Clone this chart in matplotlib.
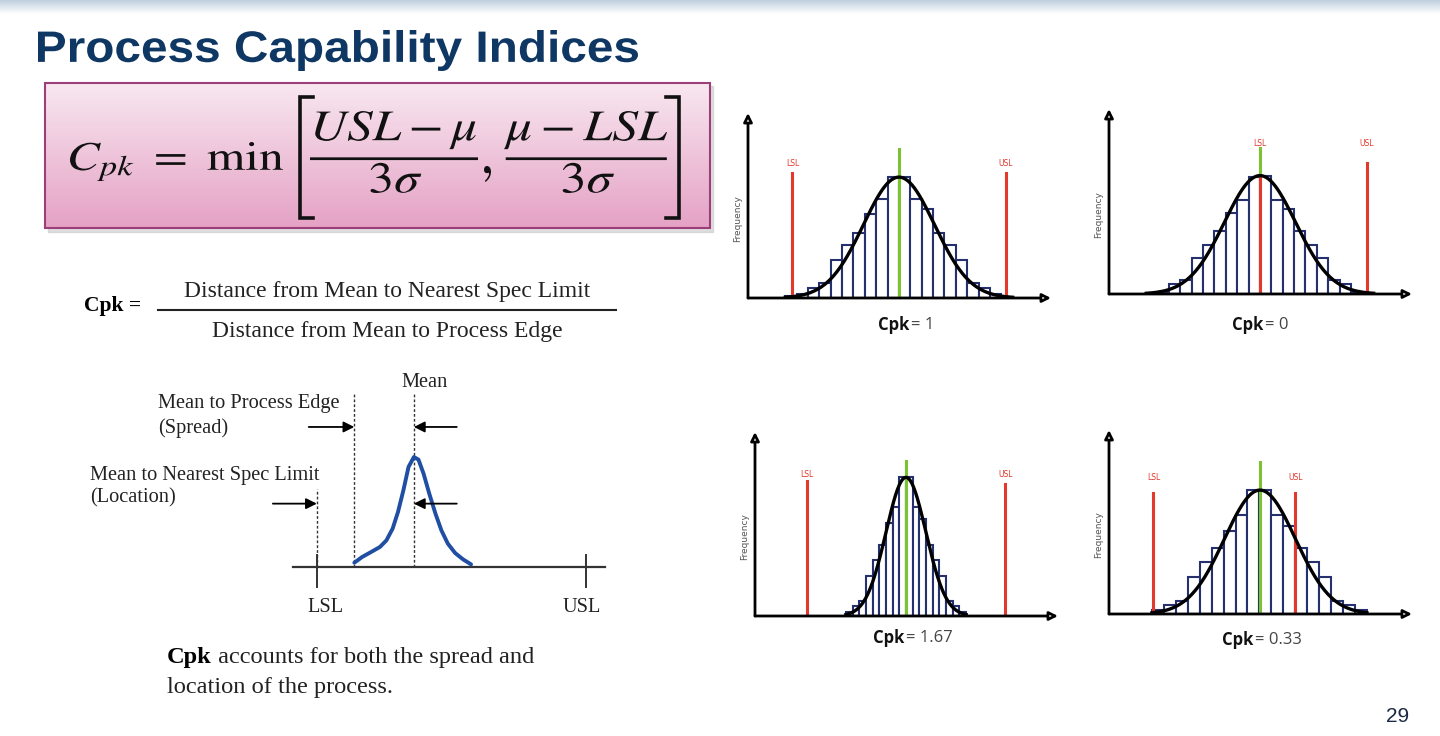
import numpy as np
import matplotlib.pyplot as plt
from matplotlib.patches import Rectangle, PathPatch
from matplotlib.colors import LinearSegmentedColormap
from matplotlib.textpath import TextPath
from matplotlib.font_manager import FontProperties
from matplotlib.transforms import Affine2D

W, H = 1440, 736

# ---- data ----
cpk_labels = ["1", "0", "1.67", "0.33"]
proc_mean = [0.0, 0.0, 0.0, 0.0]
proc_sigma = [1.0, 1.0, 0.56, 1.0]
lsl_vals = [-3.0, 0.0, -2.8, -3.0]
usl_vals = [3.0, 3.0, 2.8, 1.0]
bin_start = [-3.2, -3.2, -1.69, -3.04]
bin_width = [0.32, 0.32, 0.188, 0.336]
counts_1 = [2, 3, 8, 12, 31, 43, 53, 68, 80, 98, 98, 80, 72, 53, 43, 31, 12, 8, 3, 1]
counts_2 = [1, 2, 8, 11, 29, 40, 51, 66, 76, 95, 96, 76, 69, 51, 40, 29, 11, 8, 2, 1]
counts_3 = [3, 8, 12, 33, 46, 58, 76, 89, 113, 113, 89, 79, 58, 46, 33, 12, 8, 3]
counts_4 = [3, 7, 11, 30, 42, 54, 68, 81, 101, 101, 81, 72, 54, 42, 30, 11, 7, 3]
all_counts = [counts_1, counts_2, counts_3, counts_4]

# schematic curve (Mean / LSL / USL diagram), LSL = 0, USL = 10
diag_x = [1.39, 1.68, 2.01, 2.34, 2.58, 2.81, 3.01, 3.21, 3.40, 3.60,
          3.77, 3.96, 4.17, 4.40, 4.62, 4.86, 5.13, 5.42, 5.72]
diag_y = [0.039, 0.091, 0.136, 0.182, 0.242, 0.348, 0.50, 0.697, 0.909, 1.0,
          0.976, 0.848, 0.667, 0.485, 0.333, 0.212, 0.127, 0.070, 0.024]
diag_lsl, diag_usl, diag_edge, diag_mean = 0.0, 10.0, 1.39, 3.60

# ---- panel layout (pixels) and line heights (count units) ----
panel_left = [748, 1109, 755, 1109]
panel_top = [113, 109, 432, 430]
panel_bottom = [298, 294, 616, 614]
panel_w = 303
lsl_top = [101, 95, 110, 99]
usl_top = [101, 106, 108, 99]
mean_top = [121, 118, 126, 124]
label_y = [109, 122, 115, 111]
caption_pos = [(909, 325), (1263, 325), (904, 638), (1253, 640)]

navy = '#27306f'
red = '#e2392c'
green = '#7cc334'
ink = '#111111'
serif = 'Liberation Serif'
mathprop = FontProperties(math_fontfamily='stix')


def fit_path(ax, s, prop, x0, x1, y_top, y_bot, color, zorder=5):
    # draw text as a path stretched into a pixel box (y axis points down)
    tp = TextPath((0, 0), s, size=40, prop=prop)
    ext = tp.get_extents()
    sx = (x1 - x0) / ext.width
    sy = (y_bot - y_top) / ext.height
    tr = Affine2D().translate(-ext.x0, -ext.y0).scale(sx, -sy).translate(x0, y_bot)
    ax.add_patch(PathPatch(tr.transform_path(tp), fc=color, ec='none', zorder=zorder))


fig = plt.figure(figsize=(14.4, 7.36), dpi=100)
fig.patch.set_facecolor('white')
bg = fig.add_axes([0, 0, 1, 1])
bg.axis('off')

# top band
band_cmap = LinearSegmentedColormap.from_list('band', ['#bfcfde', '#ffffff'])
bg.imshow(np.linspace(0, 1, 50)[:, None], extent=[0, W, 14, 0], cmap=band_cmap,
          aspect='auto', origin='upper')

fit_path(bg, 'Process Capability Indices',
         FontProperties(family='Liberation Sans', weight='bold'),
         38, 638, 30, 71, '#0f3763')

# formula box
bg.add_patch(Rectangle((48, 86), 665, 146, color='#c8c8c8', alpha=0.6, zorder=1))
box_cmap = LinearSegmentedColormap.from_list('box', ['#f8e7f0', '#e5a2c5'])
bg.imshow(np.linspace(0, 1, 80)[:, None], extent=[45, 710, 228, 83], cmap=box_cmap,
          aspect='auto', origin='upper', zorder=2)
bg.add_patch(Rectangle((45, 83), 665, 145, fill=False, ec='#9c3f78', lw=1.5, zorder=3))
fit_path(bg, r'$C_{pk}\ =\ \mathrm{min}$', mathprop, 70, 283, 142, 181, ink)
fit_path(bg, r'$\dfrac{USL-\mu}{3\sigma}$', mathprop, 310, 478, 111, 193, ink)
fit_path(bg, r'$\dfrac{\mu-LSL}{3\sigma}$', mathprop, 504, 667, 111, 193, ink)
fit_path(bg, r'$,$', mathprop, 484, 491, 166, 182, ink)
bg.plot([313, 300, 300, 313], [97, 97, 218, 218], color=ink, lw=2.6, zorder=5,
        solid_joinstyle='miter')
bg.plot([666, 679, 679, 666], [97, 97, 218, 218], color=ink, lw=2.6, zorder=5,
        solid_joinstyle='miter')

# Cpk word formula
bg.text(84, 306, 'Cpk =', fontsize=15.5, fontweight='bold', family=serif, va='center')
bg.text(387, 292, 'Distance from Mean to Nearest Spec Limit', ha='center', va='center',
        fontsize=17, family=serif, color='#222222')
bg.plot([158, 616], [310, 310], color='#222222', lw=1.5)
bg.text(387, 331, 'Distance from Mean to Process Edge', ha='center', va='center',
        fontsize=17, family=serif, color='#222222')

# bottom note
t1 = bg.text(167, 657, 'Cpk', fontsize=17.6, fontweight='bold', family=serif, va='center')
bg.annotate(' accounts for both the spread and', xy=(1, 0.5), xycoords=t1, va='center',
            fontsize=17.6, family=serif, color='#222222')
bg.text(167, 687, 'location of the process.', fontsize=17.6, family=serif, va='center',
        color='#222222')

bg.text(1398, 717, '29', fontsize=15, color='#1b2a44', ha='center', va='center',
        family='Liberation Sans')

# Cpk captions
for (sx, sy), lab in zip(caption_pos, cpk_labels):
    bg.text(sx, sy, 'Cpk', ha='right', va='center', fontsize=12, fontweight='bold',
            family='Open Sans', color='#111111')
    bg.text(sx + 2, sy, '= ' + lab, ha='left', va='center', fontsize=12,
            family='Open Sans', color='#444444')

bg.set_xlim(0, W)
bg.set_ylim(H, 0)

# ---- diagram ----
dg = fig.add_axes([276.4 / W, 1 - 655 / H, 337 / W, 286 / H])
dg.set_xlim(-1.5, 11)
dg.set_ylim(-0.8, 1.8)
dg.axis('off')
dg.plot([-0.9, 10.69], [0, 0], color='#333333', lw=1.6)
for x in [diag_lsl, diag_usl]:
    dg.plot([x, x], [0.106, -0.18], color='#333333', lw=1.4)
dot = dict(color='#333333', lw=1, linestyle=(0, (2, 1.5)))
dg.plot([diag_lsl, diag_lsl], [0, 0.712], **dot)
dg.plot([diag_edge, diag_edge], [0, 1.576], **dot)
dg.plot([diag_mean, diag_mean], [0, 1.576], **dot)
dg.plot(diag_x, diag_y, color='#1f4ea3', lw=2.8, solid_capstyle='round')
arw = dict(arrowstyle='-|>', color='black', lw=1.3, shrinkA=0, shrinkB=0, mutation_scale=16)
dg.annotate('', xy=(diag_edge, 1.273), xytext=(-0.30, 1.273), arrowprops=arw)
dg.annotate('', xy=(diag_mean, 1.273), xytext=(5.19, 1.273), arrowprops=arw)
dg.annotate('', xy=(diag_lsl, 0.576), xytext=(-1.63, 0.576), arrowprops=arw)
dg.annotate('', xy=(diag_mean, 0.576), xytext=(5.19, 0.576), arrowprops=arw)
tk = dict(fontsize=14.7, family=serif, color='#222222', va='center')
dg.text(4.0, 1.68, 'Mean', ha='center', **tk)
dg.text(-5.89, 1.485, 'Mean to Process Edge', ha='left', **tk)
dg.text(-5.89, 1.258, '(Spread)', ha='left', **tk)
dg.text(-8.41, 0.833, 'Mean to Nearest Spec Limit', ha='left', **tk)
dg.text(-8.41, 0.63, '(Location)', ha='left', **tk)
dg.text(0.32, -0.364, 'LSL', ha='center', **tk)
dg.text(9.83, -0.364, 'USL', ha='center', **tk)

# ---- histogram panels ----
for i in range(4):
    x0 = panel_left[i] / W
    y0 = 1 - panel_bottom[i] / H
    ax = fig.add_axes([x0, y0, panel_w / W, (panel_bottom[i] - panel_top[i]) / H])
    ax.set_xlim(-4.25, 4.28)
    ax.set_ylim(0, 150)
    ax.axis('off')
    cnt = all_counts[i]
    edges = bin_start[i] + bin_width[i] * np.arange(len(cnt))
    ax.bar(edges, cnt, width=bin_width[i], align='edge', fc='white', ec=navy, lw=1.5, zorder=2)
    mu, sd, peak = proc_mean[i], proc_sigma[i], max(cnt)
    xs = np.linspace(bin_start[i], bin_start[i] + bin_width[i] * len(cnt), 200)
    ax.plot(xs, peak * np.exp(-0.5 * ((xs - mu) / sd) ** 2), color='black', lw=2.4, zorder=5)
    ax.plot([mu, mu], [0, mean_top[i]], color=green, lw=2.2, zorder=3)
    ax.plot([lsl_vals[i]] * 2, [0, lsl_top[i]], color=red, lw=2.2, zorder=4)
    ax.plot([usl_vals[i]] * 2, [0, usl_top[i]], color=red, lw=2.2, zorder=4)
    for x, lab in [(lsl_vals[i], 'LSL'), (usl_vals[i], 'USL')]:
        ax.text(x, label_y[i], lab, color=red, fontsize=5.5, ha='center', va='center')
    ax.text(-0.035, 0.43, 'Frequency', rotation=90, fontsize=6.5, color='#555555',
            transform=ax.transAxes, ha='center', va='center')
    head = dict(arrowstyle='-|>,head_length=0.5,head_width=0.25', lw=2, ec='black',
                fc='white', shrinkA=0, shrinkB=0)
    ax.annotate('', xy=(1, 0), xytext=(0, 0), xycoords='axes fraction', arrowprops=head,
                zorder=6)
    ax.annotate('', xy=(0, 1), xytext=(0, 0), xycoords='axes fraction', arrowprops=head,
                zorder=6)

fig.savefig('out.png', dpi=100, facecolor='white')
